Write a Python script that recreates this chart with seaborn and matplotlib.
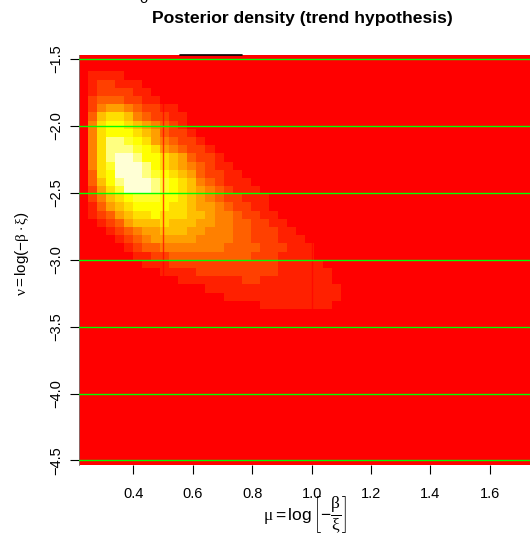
import numpy as np
import pandas as pd
import matplotlib
matplotlib.use("Agg")
import matplotlib.pyplot as plt
from matplotlib.colors import ListedColormap
import seaborn as sns

# ---------------- data ----------------
# R heat.colors(12) palette used by image()
heat_colors = ["#FF0000", "#FF2000", "#FF4000", "#FF6000", "#FF8000", "#FF9F00",
               "#FFBF00", "#FFDF00", "#FFFF00", "#FFFF2A", "#FFFF80", "#FFFFD5"]

# posterior density level (0..11, hex digit) per grid cell, rows from top (nu high) to bottom
density_rows = [
    "0",
    "0",
    "01111",
    "0122111",
    "01222211",
    "023332211",
    "02455432211",
    "036776432211",
    "047887654321",
    "0478887653221",
    "047aa987543221",
    "047aaa987543221",
    "047abba887653221",
    "0479bbba876543211",
    "0378bbba9876532211",
    "0368abbba9876432111",
    "02579bbba98765432111",
    "024678999887654322111",
    "013567888877655432211",
    "0123567787776654432211",
    "00123566676665544332211",
    "000123455666554443322211",
    "0000123455555444433222111",
    "00000123344444443333222111",
    "00000011223333333332221111",
    "000000011122222222222211111",
    "0000000001111222222222111111",
    "0000000000011111112211111111",
    "00000000000000111111111111111",
    "00000000000000001111111111111",
    "0000000000000000000011111111",
]
n_cells = 50
mu_limits = (0.218, 1.735)     # grid extent along mu
nu_limits = (-4.532, -1.470)   # grid extent along nu

x_ticks = [0.4, 0.6, 0.8, 1.0, 1.2, 1.4, 1.6]
x_tick_labels = ["0.4", "0.6", "0.8", "1.0", "1.2", "1.4", "1.6"]
y_ticks = [-1.5, -2.0, -2.5, -3.0, -3.5, -4.0, -4.5]
y_tick_labels = ["\u22121.5", "\u22122.0", "\u22122.5", "\u22123.0", "\u22123.5", "\u22124.0", "\u22124.5"]
ref_mu = [0.5, 1.0]            # vertical reference lines
ref_nu = y_ticks               # horizontal green reference lines
top_segment_mu = [0.557, 0.766]

title = "Posterior density (trend hypothesis)"
xlabel = r"$\mu = \log\left[-\dfrac{\beta}{\xi}\right]$"
ylabel = r"$\nu = \log(-\beta \cdot \xi)$"

# ---------------- build table ----------------
rows = [r.ljust(n_cells, "0") for r in density_rows]
rows += ["0" * n_cells] * (n_cells - len(rows))
levels = np.array([[int(ch, 16) for ch in r] for r in rows])
df = pd.DataFrame(levels)

def fx(mu):
    return (mu - mu_limits[0]) / (mu_limits[1] - mu_limits[0]) * n_cells

def fy(nu):
    return (nu_limits[1] - nu) / (nu_limits[1] - nu_limits[0]) * n_cells

# ---------------- style ----------------
sns.set_theme(style="white")
plt.rcParams["font.family"] = ["Liberation Sans", "DejaVu Sans"]
plt.rcParams["mathtext.fontset"] = "custom"
plt.rcParams["mathtext.rm"] = "Liberation Sans"
plt.rcParams["mathtext.it"] = "Liberation Serif"
plt.rcParams["mathtext.bf"] = "Liberation Sans:bold"
for k in ["text.color", "axes.labelcolor", "xtick.color", "ytick.color"]:
    plt.rcParams[k] = "black"

W, H = 530, 536
fig = plt.figure(figsize=(W / 100, H / 100), dpi=100)
left, right, top, bottom = 79.3, 530.0, 55.0, 464.7
ax = fig.add_axes([left / W, 1 - bottom / H, (right - left) / W, (bottom - top) / H])

sns.heatmap(df, cmap=ListedColormap(heat_colors), vmin=-0.5, vmax=11.5, cbar=False,
            ax=ax, xticklabels=False, yticklabels=False, linewidths=0)

for mu in ref_mu:
    ax.axvline(fx(mu), color="#FF0000", lw=1.0, alpha=0.7, zorder=3)
for nu in ref_nu:
    ax.axhline(fy(nu), color="#00FF00", lw=1.0, zorder=4)
ax.plot([fx(top_segment_mu[0]), fx(top_segment_mu[1])], [0, 0], color="black",
        lw=1.2, clip_on=False, zorder=5)

ax.set_xticks([fx(t) for t in x_ticks])
ax.set_xticklabels(x_tick_labels)
ax.set_yticks([fy(t) for t in y_ticks])
ax.set_yticklabels(y_tick_labels, rotation=90, va="center")
ax.tick_params(axis="both", which="major", bottom=True, left=True, direction="out",
               length=6.2, width=0.8, labelsize=10.5)
ax.tick_params(axis="x", pad=9.6)
ax.tick_params(axis="y", pad=5.5)

for s in ["top", "right", "bottom"]:
    ax.spines[s].set_visible(False)
ax.spines["left"].set_visible(True)
ax.spines["left"].set_color("#777777")
ax.spines["left"].set_linewidth(0.6)

ax.set_xlabel(xlabel, fontsize=12.5)
ax.xaxis.set_label_coords(0.5, -(494 - bottom) / (bottom - top))
ax.xaxis.label.set_va("top")
ax.set_ylabel(ylabel, fontsize=11)
ax.yaxis.set_label_coords(-(left - 31) / (right - left), 0.515)

fig.text(302 / W, 1 - 18 / H, title, ha="center", va="center",
         fontsize=12.6, fontweight="bold")
fig.text(143 / W, 1 - 2.7 / H, "o", ha="center", va="baseline", fontsize=10.5)

fig.savefig("out.png", dpi=100)
